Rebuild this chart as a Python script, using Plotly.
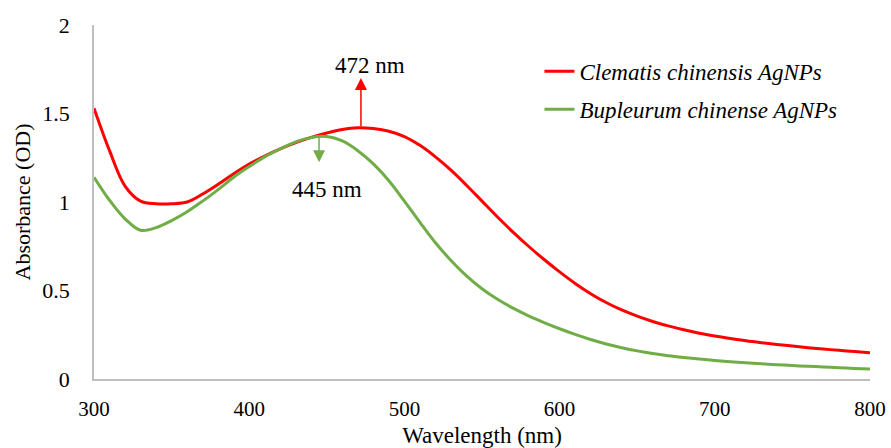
import plotly.graph_objects as go

# UV-Vis absorbance spectra of the two silver nanoparticle preparations
wavelength = list(range(300, 801, 10))

clematis = [
    1.53, 1.29, 1.09, 1.005, 0.99, 0.99, 1.00, 1.045, 1.10, 1.16,
    1.215, 1.26, 1.30, 1.335, 1.365, 1.39, 1.41, 1.42, 1.415, 1.40,
    1.37, 1.32, 1.255, 1.18, 1.095, 1.005, 0.915, 0.83, 0.75, 0.675,
    0.605, 0.54, 0.482, 0.432, 0.39, 0.355, 0.325, 0.30, 0.278, 0.259,
    0.243, 0.229, 0.216, 0.205, 0.195, 0.186, 0.177, 0.169, 0.162, 0.155,
    0.148,
]

bupleurum = [
    1.14, 1.01, 0.905, 0.84, 0.855, 0.895, 0.945, 1.005, 1.07, 1.14,
    1.20, 1.255, 1.30, 1.34, 1.365, 1.37, 1.345, 1.29, 1.215, 1.12,
    1.005, 0.885, 0.77, 0.67, 0.583, 0.51, 0.45, 0.40, 0.357, 0.319,
    0.284, 0.252, 0.223, 0.198, 0.177, 0.159, 0.144, 0.132, 0.122, 0.113,
    0.105, 0.098, 0.092, 0.086, 0.081, 0.076, 0.072, 0.068, 0.064, 0.06,
    0.057,
]

series_names = ["Clematis chinensis AgNPs", "Bupleurum chinense AgNPs"]
peak_wavelengths = [472, 445]
peak_absorbance = [1.42, 1.372]
peak_labels = ["472 nm", "445 nm"]

red = "#FF0000"
green = "#70AD47"
serif = "Liberation Serif"

fig = go.Figure()
for name, values, color, grp in [
    (series_names[0], clematis, red, "a"),
    (series_names[1], bupleurum, green, "b"),
]:
    fig.add_trace(go.Scatter(
        x=wavelength, y=values, mode="lines", name=f"<i>{name}</i>",
        legendgroup=grp,
        line=dict(color=color, width=3, shape="spline", smoothing=1.0),
    ))

# Peak markers: red arrow pointing up, green arrow pointing down
fig.add_annotation(
    x=peak_wavelengths[0], y=1.70, ax=peak_wavelengths[0], ay=peak_absorbance[0],
    xref="x", yref="y", axref="x", ayref="y",
    showarrow=True, arrowhead=2, arrowsize=1.6, arrowwidth=1.5, arrowcolor=red, text="",
)
fig.add_annotation(
    x=peak_wavelengths[1], y=1.225, ax=peak_wavelengths[1], ay=peak_absorbance[1],
    xref="x", yref="y", axref="x", ayref="y",
    showarrow=True, arrowhead=2, arrowsize=1.6, arrowwidth=1.5, arrowcolor=green, text="",
)
fig.add_annotation(x=478, y=1.77, text=peak_labels[0], showarrow=False,
                   font=dict(family=serif, size=23, color="black"))
fig.add_annotation(x=450, y=1.07, text=peak_labels[1], showarrow=False,
                   font=dict(family=serif, size=23, color="black"))

fig.update_layout(
    width=891, height=448,
    margin=dict(l=94, r=21, t=25, b=69),
    paper_bgcolor="white", plot_bgcolor="white",
    font=dict(family=serif, size=21, color="black"),
    showlegend=True,
    legend=dict(
        x=0.574, y=0.93, xanchor="left", yanchor="top",
        font=dict(family=serif, size=23, color="black"),
        bgcolor="rgba(0,0,0,0)", tracegroupgap=5, traceorder="grouped",
    ),
)
fig.update_xaxes(
    range=[300, 800], tickvals=[300, 400, 500, 600, 700, 800],
    showgrid=False, zeroline=False, showline=True, linecolor="#BFBFBF", linewidth=1.5,
    ticks="", ticklabelstandoff=10, automargin=False,
    tickfont=dict(family=serif, size=21),
    title=dict(text="Wavelength (nm)", standoff=8, font=dict(family=serif, size=23)),
)
fig.update_yaxes(
    range=[0, 2], tickvals=[0, 0.5, 1, 1.5, 2], ticktext=["0", "0.5", "1", "1.5", "2"],
    showgrid=False, zeroline=False, showline=True, linecolor="#BFBFBF", linewidth=1.5,
    ticks="", ticklabelstandoff=18, automargin=False,
    tickfont=dict(family=serif, size=22),
    title=dict(text="Absorbance (OD)", standoff=6, font=dict(family=serif, size=22)),
)

fig.write_html("out.html")
